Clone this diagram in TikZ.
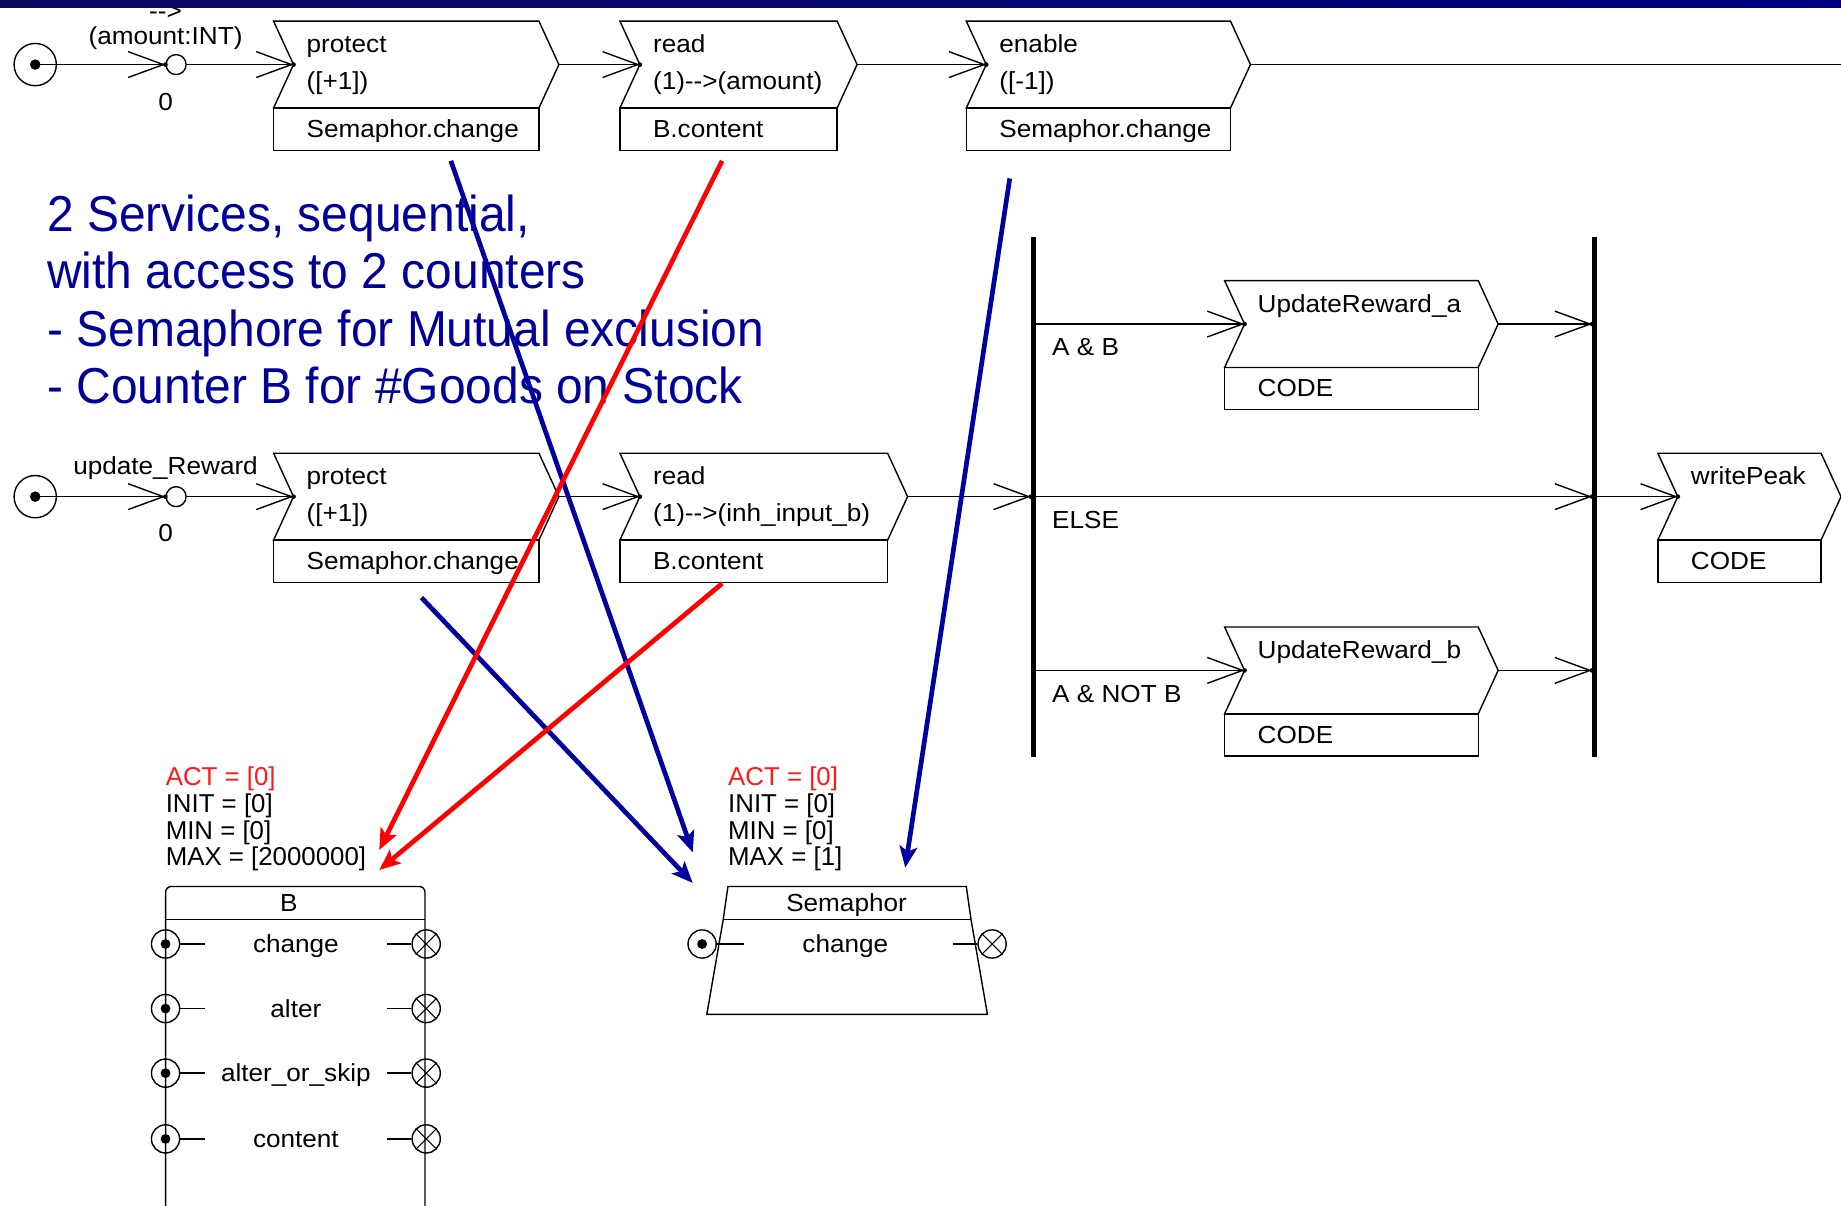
\documentclass[tikz,border=0pt]{standalone}
\usepackage{fontspec}
\setmainfont{Liberation Sans}
\newfontfamily\widef[FakeStretch=1.06]{Liberation Sans}
\newfontfamily\titlef[FakeStretch=0.95]{Liberation Sans}
\usetikzlibrary{arrows.meta}
\definecolor{titleblue}{RGB}{0,0,153}
\definecolor{arrblue}{RGB}{0,0,160}
\definecolor{arrred}{RGB}{255,0,0}
\definecolor{actred}{RGB}{255,25,25}
\definecolor{barleft}{RGB}{10,10,95}
\definecolor{barright}{RGB}{0,0,130}
\tikzset{
 diag/.style={line width=1.2pt},
 barb/.style={line width=1.2pt,-{Straight Barb[length=30pt,width=22pt]}},
 lbl/.style={font=\widef\fontsize{21}{24}\selectfont, inner sep=0pt, anchor=base west},
 clbl/.style={font=\widef\fontsize{21}{24}\selectfont, inner sep=0pt, anchor=base},
 info/.style={font=\fontsize{22}{24}\selectfont, inner sep=0pt, anchor=base west},
 titletxt/.style={font=\titlef\fontsize{43}{49}\selectfont, text=titleblue, inner sep=0pt, anchor=base west},
 portc/.style={circle, draw, line width=1.2pt, minimum size=24pt, inner sep=0pt},
 startc/.style={circle, draw, line width=1.2pt, minimum size=36pt, inner sep=0pt},
 smallc/.style={circle, draw, line width=1.2pt, minimum size=17pt, inner sep=0pt},
 joinbar/.style={line width=4pt},
 carrow/.style={line width=4pt, -{Stealth[length=18pt,width=15pt,inset=4pt]}},
}
% chevron activity box: name, x left, y top, x right, line1, line2, bottom text
\newcommand\chevbox[7]{%
  \draw[diag] (#2,#3) -- (#4,#3) -- ({#4+17},{#3+37}) -- (#4,{#3+74}) -- (#2,{#3+74}) -- ({#2+17},{#3+37}) -- cycle;
  \draw[diag] (#2,{#3+74}) rectangle (#4,{#3+110});
  \coordinate (#1-in) at ({#2+17},{#3+37});
  \coordinate (#1-out) at ({#4+17},{#3+37});
  \fill (#1-in) circle (2pt);
  \node[lbl] (#1-t1) at ({#2+28},{#3+27}) {#5};
  \node[lbl] (#1-t2) at ({#2+28},{#3+58}) {#6};
  \node[lbl] (#1-t3) at ({#2+28},{#3+99}) {#7};
}
\newcommand\inport[3]{%
  \node[portc] (#1) at (#2,#3) {};
  \fill (#1.center) circle (4.2pt);
}
\newcommand\outport[3]{%
  \node[portc] (#1) at (#2,#3) {};
  \draw[line width=0.9pt] (#1.north west) -- (#1.south east) (#1.north east) -- (#1.south west);
}
\begin{document}
\begin{tikzpicture}[x=1pt,y=-1pt]
\fill[white] (0,0) rectangle (1568,1027);
\useasboundingbox (0,0) rectangle (1568,1027);

% ---------- row 1 ----------
\node[clbl] (arrowtxt) at (141,17) {-{}->};
\node[clbl] (amount) at (141,38) {(amount:INT)};
\node[clbl] (zero1) at (141,94) {0};
\node[startc] (s1) at (30,55) {};
\fill (s1.center) circle (4.5pt);
\node[smallc] (c1) at (150,55) {};
\fill (c1.west) circle (2pt);
\chevbox{p1}{233}{18}{459}{protect}{([+1])}{Semaphor.change}
\chevbox{r1}{528}{18}{713}{read}{(1)-{}->(amount)}{B.content}
\chevbox{e1}{823}{18}{1048}{enable}{([-1])}{Semaphor.change}
\coordinate (end1) at (1568,55);
\draw[barb] (s1.center) -- (c1);
\draw[barb] (c1) -- (p1-in);
\draw[barb] (p1-out) -- (r1-in);
\draw[barb] (r1-out) -- (e1-in);
\draw[diag] (e1-out) -- (end1);

% ---------- row 2 ----------
\node[clbl] (upd) at (141,404) {update\_Reward};
\node[clbl] (zero2) at (141,461) {0};
\node[startc] (s2) at (30,423) {};
\fill (s2.center) circle (4.5pt);
\node[smallc] (c2) at (150,423) {};
\fill (c2.west) circle (2pt);
\chevbox{p2}{233}{386}{459}{protect}{([+1])}{Semaphor.change}
\chevbox{r2}{528}{386}{756}{read}{(1)-{}->(inh\_input\_b)}{B.content}
\draw[barb] (s2.center) -- (c2);
\draw[barb] (c2) -- (p2-in);
\draw[barb] (p2-out) -- (r2-in);

% decision bars
\coordinate (b1t) at (880,202);
\coordinate (b1b) at (880,645);
\coordinate (b2t) at (1358,202);
\coordinate (b2b) at (1358,645);
\draw[joinbar] (b1t) -- (b1b);
\draw[joinbar] (b2t) -- (b2b);
\coordinate (b1m) at (878,423);
\coordinate (b1a) at (880,276);
\coordinate (b1c) at (880,571);
\coordinate (b1e) at (880,423);
\coordinate (b2a) at (1356,276);
\coordinate (b2m) at (1356,423);
\coordinate (b2c) at (1356,571);
\coordinate (b2e) at (1358,423);
\draw[barb] (r2-out) -- (b1m);
\fill (b1m) circle (2pt);

\chevbox{ua}{1043}{239}{1259}{UpdateReward\_a}{}{CODE}
\chevbox{ub}{1043}{534}{1259}{UpdateReward\_b}{}{CODE}
\chevbox{wp}{1412}{386}{1551}{writePeak}{}{CODE}

\draw[barb] (b1a) -- (ua-in);
\draw[barb] (ua-out) -- (b2a);
\draw[barb] (b1e) -- (b2m);
\draw[barb] (b1c) -- (ub-in);
\draw[barb] (ub-out) -- (b2c);
\draw[barb] (b2e) -- (wp-in);
\fill (b2a) circle (2pt);
\fill (b2m) circle (2pt);
\fill (b2c) circle (2pt);

\node[lbl] (condab) at (896,303) {A \& B};
\node[lbl] (condelse) at (896,450) {ELSE};
\node[lbl] (condanb) at (896,598) {A \& NOT B};

% ---------- title text ----------
\node[titletxt] (tx1) at (40,197) {2 Services, sequential,};
\node[titletxt] (tx2) at (40,246) {with access to 2 counters};
\node[titletxt] (tx3) at (40,295) {- Semaphore for Mutual exclusion};
\node[titletxt] (tx4) at (40,344) {- Counter B for \#Goods on Stock};

% ---------- counter B ----------
\node[info, text=actred] (bact) at (141,668.6) {ACT = [0]};
\node[info] (binit) at (141,692) {INIT = [0]};
\node[info] (bmin) at (141,715) {MIN = [0]};
\node[info] (bmax) at (141,737) {MAX = [2000000]};
\draw[diag, rounded corners=5pt] (141,1030) -- (141,755) -- (362,755) -- (362,1030);
\draw[diag] (141,783) -- (362,783);
\node[clbl] (bname) at (246,776.5) {B};
\foreach \yy/\tt [count=\i] in {804/change, 859/alter, 914/alter\_or\_skip, 970/content}{
  \inport{bin\i}{141}{\yy}
  \outport{bout\i}{363}{\yy}
  \draw[diag] (bin\i.east) -- ++(21,0);
  \draw[diag] (bout\i.west) -- ++(-21,0);
  \node[clbl] (blab\i) at (252,\yy+7.5) {\tt};
}

% ---------- counter Semaphor ----------
\node[info, text=actred] (sact) at (620,668.6) {ACT = [0]};
\node[info] (sinit) at (620,692) {INIT = [0]};
\node[info] (smin) at (620,715) {MIN = [0]};
\node[info] (smax) at (620,737) {MAX = [1]};
\draw[diag] (620,755) -- (823,755) -- (827,783) -- (841,864) -- (602,864) -- (616,783) -- cycle;
\draw[diag] (616,783) -- (827,783);
\node[clbl] (sname) at (721,776.5) {Semaphor};
\inport{sin}{598}{804}
\outport{sout}{845}{804}
\draw[diag] (sin.east) -- ++(23,0);
\draw[diag] (sout.west) -- ++(-21,0);
\node[clbl] (slab) at (720,811.5) {change};

% ---------- colored access arrows ----------
\coordinate (a1s) at (384,137);
\coordinate (a1e) at (590,726);
\coordinate (a2s) at (359,509);
\coordinate (a2e) at (590,752);
\coordinate (a3s) at (860,152);
\coordinate (a3e) at (771,739);
\coordinate (q1s) at (615,137);
\coordinate (q1e) at (323,724);
\coordinate (q2s) at (615,497);
\coordinate (q2e) at (323,741);
\draw[carrow, arrblue] (a1s) -- (a1e);
\draw[carrow, arrblue] (a2s) -- (a2e);
\draw[carrow, arrblue] (a3s) -- (a3e);
\draw[carrow, arrred] (q1s) -- (q1e);
\draw[carrow, arrred] (q2s) -- (q2e);

% ---------- top bar ----------
\shade[left color=barleft, right color=barright] (0,0) rectangle (1568,6);
\end{tikzpicture}
\end{document}
